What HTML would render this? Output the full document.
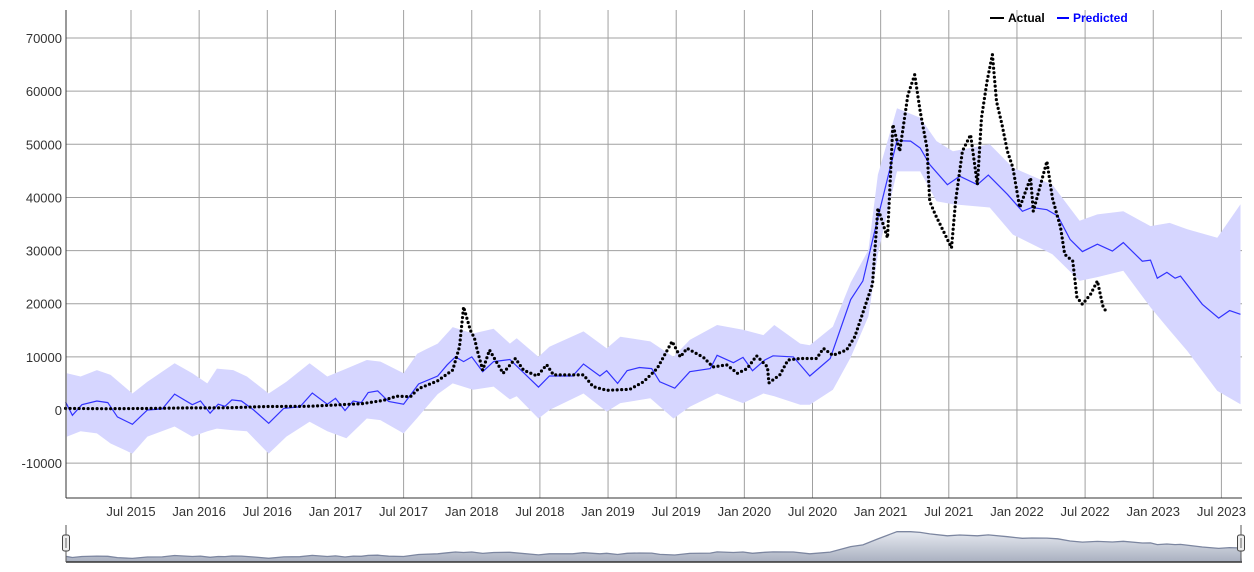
<!DOCTYPE html>
<html><head><meta charset="utf-8">
<style>
html,body{margin:0;padding:0;background:#fff;}
svg{display:block;font-family:"Liberation Sans",Arial,sans-serif;}
</style></head>
<body>
<svg id="chart" width="1254" height="572" viewBox="0 0 1254 572" xmlns="http://www.w3.org/2000/svg">
  <defs>
    <linearGradient id="mg" x1="0" y1="0" x2="0" y2="1">
      <stop offset="0" stop-color="#e6e9f0"/>
      <stop offset="1" stop-color="#a9b0c0"/>
    </linearGradient>
  </defs>
  <g id="grid"></g>
  <g id="band"></g>
  <g id="series"></g>
  <g id="axes"></g>
  <g id="legend">
    <line x1="990" y1="18" x2="1004" y2="18" stroke="#000" stroke-width="2"/>
    <text x="1008" y="22" font-size="12" font-weight="bold" fill="#000">Actual</text>
    <line x1="1057" y1="18" x2="1069" y2="18" stroke="#0000ff" stroke-width="2"/>
    <text x="1073" y="22" font-size="12" font-weight="bold" fill="#0000ff">Predicted</text>
  </g>
  <g id="range"></g>
</svg>
<script>
const yTicks = [-10000, 0, 10000, 20000, 30000, 40000, 50000, 60000, 70000];
const xTickLabels = ["Jul 2015","Jan 2016","Jul 2016","Jan 2017","Jul 2017","Jan 2018","Jul 2018","Jan 2019","Jul 2019","Jan 2020","Jul 2020","Jan 2021","Jul 2021","Jan 2022","Jul 2022","Jan 2023","Jul 2023"];
const xTickDates = [2015.5,2016,2016.5,2017,2017.5,2018,2018.5,2019,2019.5,2020,2020.5,2021,2021.5,2022,2022.5,2023,2023.5];

const predDates = [2015.02,2015.07,2015.14,2015.25,2015.33,2015.40,2015.51,2015.62,2015.73,2015.82,2015.95,2016.01,2016.08,2016.14,2016.19,2016.24,2016.31,2016.40,2016.51,2016.62,2016.74,2016.83,2016.94,2017.00,2017.07,2017.13,2017.19,2017.24,2017.31,2017.39,2017.50,2017.61,2017.75,2017.82,2017.88,2017.94,2018.00,2018.08,2018.16,2018.28,2018.49,2018.57,2018.74,2018.82,2018.94,2018.99,2019.07,2019.14,2019.23,2019.32,2019.38,2019.49,2019.60,2019.75,2019.80,2019.92,2019.99,2020.06,2020.15,2020.21,2020.36,2020.48,2020.63,2020.78,2020.87,2020.98,2021.07,2021.12,2021.22,2021.29,2021.36,2021.49,2021.58,2021.71,2021.79,2021.93,2022.04,2022.11,2022.22,2022.30,2022.39,2022.48,2022.59,2022.70,2022.78,2022.92,2022.98,2023.03,2023.10,2023.16,2023.20,2023.36,2023.48,2023.56,2023.64];
const predValues = [1500,-1000,1000,1700,1400,-1300,-2700,0,200,3000,1000,1700,-600,1100,700,1900,1700,0,-2500,300,600,3200,1100,2200,-100,1700,1400,3300,3600,1600,1100,4900,6400,8500,10000,9100,10000,7200,9100,9500,4300,6400,6400,8650,6400,7400,5000,7400,8000,7800,5300,4100,7200,7800,10300,8900,9900,7400,9400,10200,10000,6400,9700,20800,24300,36200,45600,50700,50600,49300,46200,42400,44000,42400,44200,40600,37400,38100,37700,36500,32100,29800,31200,29900,31500,28000,28200,24800,25900,24800,25200,19900,17300,18700,18000];

const bandDates = [2015.03,2015.13,2015.25,2015.35,2015.51,2015.62,2015.82,2015.95,2016.06,2016.13,2016.25,2016.35,2016.51,2016.64,2016.81,2016.94,2017.08,2017.23,2017.33,2017.50,2017.60,2017.67,2017.75,2017.86,2018.01,2018.16,2018.28,2018.33,2018.49,2018.57,2018.82,2018.99,2019.09,2019.31,2019.48,2019.60,2019.80,2019.99,2020.14,2020.22,2020.41,2020.48,2020.65,2020.78,2020.91,2020.98,2021.12,2021.29,2021.41,2021.53,2021.80,2021.97,2022.26,2022.46,2022.59,2022.78,2022.98,2023.12,2023.25,2023.47,2023.64];
const bandUpper = [6900,6300,7500,6600,3100,5300,8800,6900,5000,7800,7500,6300,3100,5300,8800,6300,7800,9400,9100,6900,10600,11500,12500,15600,14400,15300,12500,13500,10000,11900,14800,11600,13800,12900,10000,13200,16000,15100,14100,16000,12500,12200,15700,24000,30100,44300,56800,55000,50600,48700,50000,45600,42400,35600,36800,37400,34600,35200,34000,32400,38700];
const bandLower = [-5000,-4000,-4400,-6300,-8200,-5000,-3100,-5000,-4000,-3500,-3800,-4000,-8200,-5000,-2200,-4000,-5300,-1600,-1900,-4400,-1500,600,3000,5000,3800,4400,2000,2600,-1600,0,3100,-300,1300,2200,-1600,600,3100,1300,3100,2600,1000,1000,3800,9900,17600,29300,44900,44900,39300,38700,38100,33000,29300,24300,25000,26200,19300,15000,11100,3600,1100];

const actualDates = [2015.02,2015.3,2015.6,2015.9,2016.2,2016.5,2016.8,2017.0,2017.2,2017.35,2017.45,2017.55,2017.61,2017.75,2017.86,2017.91,2017.94,2017.99,2018.02,2018.04,2018.08,2018.13,2018.23,2018.32,2018.38,2018.48,2018.55,2018.60,2018.82,2018.89,2018.99,2019.16,2019.26,2019.36,2019.47,2019.53,2019.58,2019.70,2019.77,2019.87,2019.95,2020.02,2020.09,2020.17,2020.18,2020.26,2020.32,2020.41,2020.53,2020.58,2020.65,2020.75,2020.81,2020.88,2020.94,2020.98,2021.05,2021.09,2021.14,2021.20,2021.25,2021.29,2021.34,2021.36,2021.40,2021.46,2021.52,2021.55,2021.60,2021.66,2021.71,2021.74,2021.78,2021.82,2021.85,2021.89,2021.93,2021.97,2022.02,2022.10,2022.12,2022.22,2022.26,2022.32,2022.35,2022.41,2022.44,2022.48,2022.54,2022.59,2022.63,2022.65];
const actualValues = [300,250,280,400,420,650,700,950,1200,1800,2600,2500,4000,5500,7500,11900,19400,15000,13500,11300,7500,11300,6900,9700,7500,6400,8500,6600,6600,4400,3700,3900,5300,7800,12900,10000,11600,9900,8100,8500,6900,7800,10200,8100,5100,6600,9400,9700,9700,11600,10300,11300,13800,19100,23700,38000,32400,53700,48700,59300,63100,56200,49300,39300,36800,33700,30500,39300,48700,51800,42400,55000,61800,66900,58100,53700,48700,45600,38100,43700,37400,46800,39900,34300,29300,28000,21200,19900,21800,24300,19600,18700];

const NS = "http://www.w3.org/2000/svg";
const L = 66, R = 1242, T = 10, B = 498;
function xs(t){ return 131 + (t - 2015.5) * 136.3; }
function ys(v){ return 410 - v * 0.005314; }
function mk(tag, attrs, parent){ const e = document.createElementNS(NS, tag); for (const k in attrs) e.setAttribute(k, attrs[k]); parent.appendChild(e); return e; }

const grid = document.getElementById('grid');
const axes = document.getElementById('axes');
yTicks.forEach(v => {
  const y = ys(v);
  const gl = mk('line', {x1: L, x2: R, y1: y, y2: y, stroke: '#a0a0a0', 'stroke-width': 1}, grid);
  
  
  const tx = mk('text', {x: 62, y: y + 5, 'text-anchor': 'end', 'font-size': 13, fill: '#333'}, axes);
  tx.textContent = v;
  
  
});
xTickDates.forEach((t, i) => {
  const x = xs(t);
  const gl = mk('line', {x1: x, x2: x, y1: T, y2: B, stroke: '#a0a0a0', 'stroke-width': 1}, grid);
  
  
  const tx = mk('text', {x: x, y: 516, 'text-anchor': 'middle', 'font-size': 13, fill: '#333'}, axes);
  tx.textContent = xTickLabels[i];
  
  
});
const ax1 = mk('line', {x1: L, x2: L, y1: T, y2: B, stroke: '#333', 'stroke-width': 1}, axes);


const ax2 = mk('line', {x1: L, x2: R, y1: B, y2: B, stroke: '#333', 'stroke-width': 1}, axes);



let pts = [];
bandDates.forEach((t, i) => pts.push(xs(t).toFixed(1) + ',' + ys(bandUpper[i]).toFixed(1)));
for (let i = bandDates.length - 1; i >= 0; i--) pts.push(xs(bandDates[i]).toFixed(1) + ',' + ys(bandLower[i]).toFixed(1));
const band = mk('polygon', {points: pts.join(' '), fill: '#d6d6ff', stroke: 'none'}, document.getElementById('band'));



const series = document.getElementById('series');
const pl = mk('polyline', {points: predDates.map((t, i) => xs(t).toFixed(1) + ',' + ys(predValues[i]).toFixed(1)).join(' '), fill: 'none', stroke: '#3333ff', 'stroke-width': 1.2}, series);


const al = mk('polyline', {points: actualDates.map((t, i) => xs(t).toFixed(1) + ',' + ys(actualValues[i]).toFixed(1)).join(' '), fill: 'none', stroke: '#000', 'stroke-width': 3.2, 'stroke-linecap': 'round', 'stroke-dasharray': '0 4.5'}, series);



const rg = document.getElementById('range');
function my(v){ return 557 - v * 0.0005; }
let mp = [L + ',' + 562];
predDates.forEach((t, i) => mp.push(xs(t).toFixed(1) + ',' + my(predValues[i]).toFixed(1)));
mp.push(R + ',' + 562);
const ma = mk('polygon', {points: mp.join(' '), fill: 'url(#mg)', stroke: 'none'}, rg);


const ml = mk('polyline', {points: predDates.map((t, i) => xs(t).toFixed(1) + ',' + my(predValues[i]).toFixed(1)).join(' '), fill: 'none', stroke: '#7c86a0', 'stroke-width': 1.3}, rg);


const mb = mk('line', {x1: L, x2: R, y1: 562, y2: 562, stroke: '#333', 'stroke-width': 1.5}, rg);


[L, R - 1].forEach((x, i) => {
  const ln = mk('line', {x1: x, x2: x, y1: 525, y2: 562, stroke: '#555', 'stroke-width': 1}, rg);
  
  
  const h = mk('rect', {x: x - 3.5, y: 535, width: 7, height: 16, rx: 2, fill: '#eee', stroke: '#444', 'stroke-width': 1}, rg);
  
  
  const h2 = mk('line', {x1: x, x2: x, y1: 538, y2: 548, stroke: '#666', 'stroke-width': 1}, rg);
  
  
});
</script>
</body></html>
